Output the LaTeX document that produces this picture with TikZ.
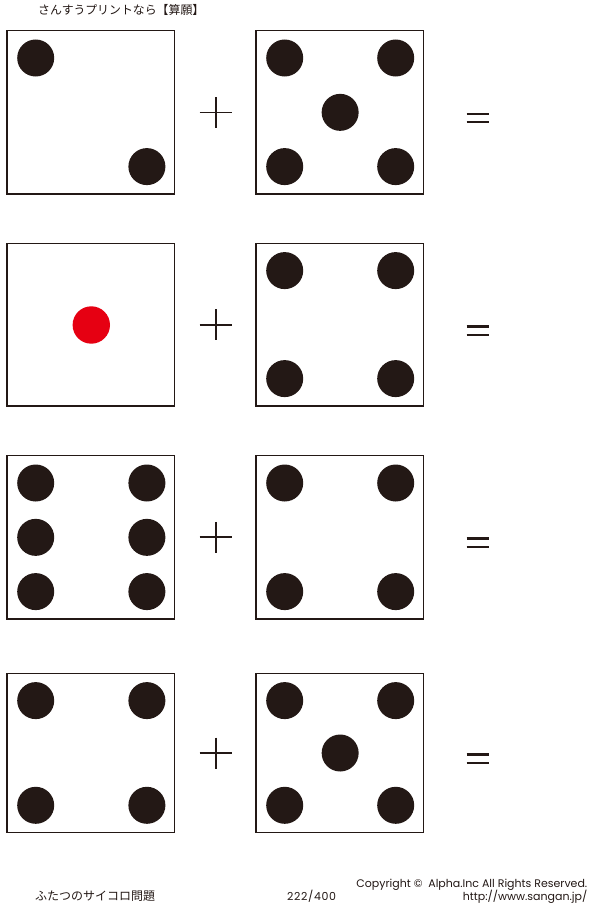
\documentclass[tikz,border=0pt]{standalone}
\usepackage{fontspec}
\newfontfamily\jpfont{Noto Sans CJK JP}
\newfontfamily\latfont{Poppins}
\usetikzlibrary{calc}
\definecolor{inkdark}{HTML}{231815}
\definecolor{pipred}{HTML}{E60012}
\tikzset{
  boxline/.style={draw=inkdark, line width=1.3pt},
  pipdot/.style={fill=inkdark},
  redpip/.style={fill=pipred},
  opline/.style={draw=inkdark, line width=1.7pt},
  eqline/.style={draw=inkdark, line width=2.2pt},
  jptext/.style={inner sep=0pt, text=inkdark, font=\jpfont\fontsize{11.9}{13}\selectfont},
  lattext/.style={inner sep=0pt, text=inkdark, font=\latfont\fontsize{11}{12}\selectfont},
}
% #1 name, #2 left, #3 top, #4 right, #5 bottom, #6 pip list (l/c/r / t/m/b)
\newcommand\mydie[6]{%
  \pgfmathsetmacro\xl{#2+28.7}\pgfmathsetmacro\xr{#4-27.6}\pgfmathsetmacro\xc{(#2+#4)/2+0.5}%
  \pgfmathsetmacro\yt{#3+27.3}\pgfmathsetmacro\yb{#5-27.4}\pgfmathsetmacro\ym{(#3+#5)/2}%
  \node[boxline, inner sep=0pt, minimum width={(#4-#2)*1pt}, minimum height={(#5-#3)*1pt}] (#1) at ({(#2+#4)/2},{(#3+#5)/2}) {};
  \foreach \px/\py in {#6}{%
    \fill[pipdot] (\csname x\px\endcsname,\csname y\py\endcsname) circle[radius=18.5pt];}%
}
\newcommand\myplus[3]{% name, x, y
  \coordinate (#1) at (#2,#3);
  \draw[opline] ($(#1)+(-16,0)$) -- ($(#1)+(16,0)$);
  \draw[opline] ($(#1)+(0,-15.5)$) -- ($(#1)+(0,15.5)$);
}
\newcommand\myeq[3]{% name, x, y
  \coordinate (#1) at (#2,#3);
  \draw[eqline] ($(#1)+(-11.2,-4.3)$) -- ($(#1)+(11.2,-4.3)$);
  \draw[eqline] ($(#1)+(-11.2,4.3)$) -- ($(#1)+(11.2,4.3)$);
}
\begin{document}
\begin{tikzpicture}[x=1pt,y=-1pt]
\useasboundingbox[fill=white] (0,0) rectangle (600,907);
\node[jptext, anchor=base west] (title) at (38,14.4) {さんすうプリントなら【算願】};
% row 1
\mydie{a1}{7}{30.7}{174.5}{194}{l/t, r/b}
\myplus{p1}{215.7}{112.5}
\mydie{b1}{256}{30.7}{423.3}{194}{l/t, r/t, c/m, l/b, r/b}
\myeq{e1}{477.8}{118}
% row 2
\node[boxline, inner sep=0pt, minimum width=167.5pt, minimum height=162.7pt] (a2) at (90.75,324.7) {};
\fill[redpip] (91.3,325) circle[radius=18.7pt];
\myplus{p2}{215.7}{324.7}
\mydie{b2}{256}{243.3}{423.3}{406}{l/t, r/t, l/b, r/b}
\myeq{e2}{477.8}{330.8}
% row 3
\mydie{a3}{7}{455.7}{174.5}{619}{l/t, r/t, l/m, r/m, l/b, r/b}
\myplus{p3}{215.7}{537.3}
\mydie{b3}{256}{455.7}{423.3}{619}{l/t, r/t, l/b, r/b}
\myeq{e3}{477.8}{542.8}
% row 4
\mydie{a4}{7}{673.3}{174.5}{832.7}{l/t, r/t, l/b, r/b}
\myplus{p4}{215.7}{753}
\mydie{b4}{256}{673.3}{423.3}{832.7}{l/t, r/t, c/m, l/b, r/b}
\myeq{e4}{477.8}{758.8}
% footer
\node[jptext, font=\jpfont\fontsize{12}{14}\selectfont, anchor=base west] (sub) at (35,900.6) {ふたつのサイコロ問題};
\node[lattext, font=\latfont\fontsize{11}{12}\addfontfeatures{LetterSpace=6}\selectfont, anchor=base west] (pg) at (287,900.8) {222/400};
\node[lattext, anchor=base east] (copy) at (587.5,887.4) {Copyright ©\ \ Alpha.Inc All Rights Reserved.};
\node[lattext, anchor=base east] (url) at (587.5,900.8) {http://www.sangan.jp/};
\end{tikzpicture}
\end{document}
